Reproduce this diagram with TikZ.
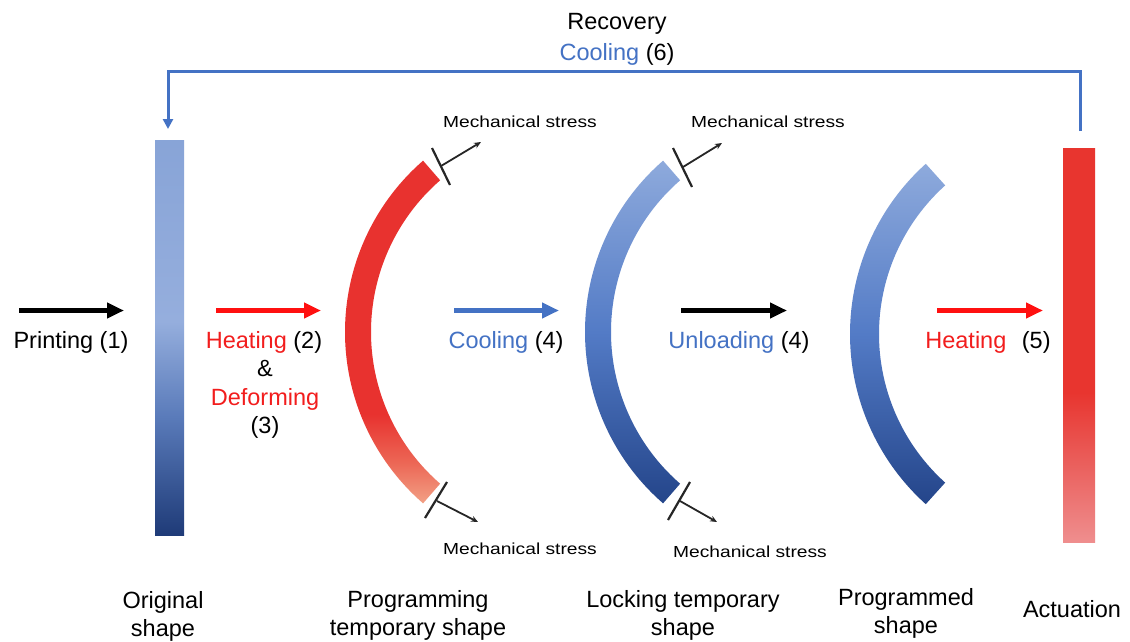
\documentclass[tikz,border=0pt]{standalone}
\usepackage{fontspec}
\usepackage{graphicx}
\setmainfont{Liberation Sans}
\usetikzlibrary{arrows.meta,calc}

\definecolor{txtblue}{HTML}{4472C4}
\definecolor{lineblue}{HTML}{4472C4}
\definecolor{txtred}{HTML}{F21D1D}
\definecolor{arrred}{HTML}{FF1010}
\definecolor{stressgray}{HTML}{262626}

\definecolor{obTop}{HTML}{88A4D7}
\definecolor{obMid}{HTML}{95AEDD}
\definecolor{obLow}{HTML}{5A7BBA}
\definecolor{obBot}{HTML}{1F3B78}
\pgfdeclareverticalshading{origsh}{100bp}{color(0bp)=(obBot); color(25bp)=(obBot); color(40bp)=(obLow); color(52bp)=(obMid); color(75bp)=(obTop); color(100bp)=(obTop)}

\definecolor{raRed}{HTML}{E8322F}
\definecolor{raMid}{HTML}{EC6655}
\definecolor{raSal}{HTML}{F2A085}
\pgfdeclareverticalshading{redsh}{100bp}{color(0bp)=(raSal); color(25bp)=(raSal); color(31bp)=(raMid); color(38bp)=(raRed); color(100bp)=(raRed)}

\definecolor{baTop}{HTML}{8EAADC}
\definecolor{baMid}{HTML}{537BC6}
\definecolor{baBot}{HTML}{24458A}
\pgfdeclareverticalshading{bluesh}{100bp}{color(0bp)=(baBot); color(25bp)=(baBot); color(50bp)=(baMid); color(75bp)=(baTop); color(100bp)=(baTop)}

\definecolor{acRed}{HTML}{E8352F}
\definecolor{acMid}{HTML}{EA5F5C}
\definecolor{acPink}{HTML}{EF8E8E}
\pgfdeclareverticalshading{actsh}{100bp}{color(0bp)=(acPink); color(25bp)=(acPink); color(35bp)=(acMid); color(44bp)=(acRed); color(100bp)=(acRed)}

\tikzset{
  lbl/.style={font=\fontsize{23.5}{28}\selectfont, inner sep=0pt, anchor=base},
  mslbl/.style={font=\fontsize{16}{19}\selectfont, inner sep=0pt, anchor=base},
  flowarrow/.style={line width=4.5pt, -{Triangle[length=17pt,width=15pt]}},
  stressbar/.style={line width=2.2pt, draw=stressgray},
  stressarrow/.style={line width=1.8pt, draw=stressgray, -{Stealth[length=7pt,width=6pt]}},
  feedback/.style={line width=3pt, draw=lineblue, -{Triangle[length=10pt,width=10pt]}}
}

\begin{document}
\begin{tikzpicture}[x=1pt,y=-1pt]
\useasboundingbox[fill=white] (0,0) rectangle (1130,642);

% bars
\node[shading=origsh, minimum width=29pt, minimum height=395pt, inner sep=0pt] (orig) at (169.5,337.5) {};
\node[shading=actsh, minimum width=32pt, minimum height=394pt, inner sep=0pt] (act) at (1079,345) {};

% arcs
\begin{scope}[shift={(572,332)}]
  \coordinate (redarc) at (0,0);
  \shade[shading=redsh] (229:227) arc[start angle=229, end angle=131, radius=227] -- (131:201) arc[start angle=131, end angle=229, radius=201] -- cycle;
\end{scope}
\begin{scope}[shift={(812,332)}]
  \coordinate (lockarc) at (0,0);
  \shade[shading=bluesh] (229:227) arc[start angle=229, end angle=131, radius=227] -- (131:201) arc[start angle=131, end angle=229, radius=201] -- cycle;
\end{scope}
\begin{scope}[shift={(1079,334)}]
  \coordinate (progarc) at (0,0);
  \shade[shading=bluesh] (228:229) arc[start angle=228, end angle=132, radius=229] -- (132:200) arc[start angle=132, end angle=228, radius=200] -- cycle;
\end{scope}

% stress symbols
\coordinate (s1a) at (432,148); \coordinate (s1b) at (450,185);
\coordinate (s1m) at (441,166); \coordinate (s1t) at (481,142);
\coordinate (s2a) at (425,518); \coordinate (s2b) at (447,482);
\coordinate (s2m) at (437,501); \coordinate (s2t) at (478,522);
\coordinate (s3a) at (673,148); \coordinate (s3b) at (692,187);
\coordinate (s3m) at (683,167); \coordinate (s3t) at (722,143);
\coordinate (s4a) at (668,520); \coordinate (s4b) at (690,482);
\coordinate (s4m) at (680,501); \coordinate (s4t) at (717,522);
\foreach \s in {s1,s2,s3,s4}{
  \draw[stressbar] (\s a) -- (\s b);
  \draw[stressarrow] (\s m) -- (\s t);
}
\node[mslbl] (ms1) at (520,127) {\scalebox{1.2}[1]{Mechanical stress}};
\node[mslbl] (ms2) at (768,127) {\scalebox{1.2}[1]{Mechanical stress}};
\node[mslbl] (ms3) at (520,554) {\scalebox{1.2}[1]{Mechanical stress}};
\node[mslbl] (ms4) at (750,557) {\scalebox{1.2}[1]{Mechanical stress}};

% flow arrows
\coordinate (a1s) at (19,310.5);  \coordinate (a1e) at (124,310.5);
\coordinate (a2s) at (216,310.5); \coordinate (a2e) at (321,310.5);
\coordinate (a3s) at (454,310.5); \coordinate (a3e) at (559,310.5);
\coordinate (a4s) at (681,310.5); \coordinate (a4e) at (787,310.5);
\coordinate (a5s) at (937,310.5); \coordinate (a5e) at (1043,310.5);
\draw[flowarrow, black] (a1s) -- (a1e);
\draw[flowarrow, arrred] (a2s) -- (a2e);
\draw[flowarrow, lineblue] (a3s) -- (a3e);
\draw[flowarrow, black] (a4s) -- (a4e);
\draw[flowarrow, arrred] (a5s) -- (a5e);

% flow labels
\node[lbl] (print) at (71,348) {Printing (1)};
\node[lbl] (heat2) at (264,348) {\textcolor{txtred}{Heating} (2)};
\node[lbl] (amp) at (265,376.5) {\&};
\node[lbl] (deform) at (265,405) {\textcolor{txtred}{Deforming}};
\node[lbl] (three) at (265,433) {(3)};
\node[lbl] (cool4) at (506,348) {\textcolor{txtblue}{Cooling} (4)};
\node[lbl] (unload) at (739,348) {\textcolor{txtblue}{Unloading} (4)};
\node[lbl] (heat5) at (988,348) {\textcolor{txtred}{Heating}\hspace{9pt} (5)};

% feedback
\coordinate (fbs) at (1080,131);
\coordinate (fbe) at (168,129);
\draw[feedback] (fbs) -- ++(0,-59) -| (fbe);
\node[lbl] (recov) at (617,30) {Recovery};
\node[lbl] (cool6) at (617,60) {\textcolor{txtblue}{Cooling} (6)};

% bottom labels
\node[lbl] (l1a) at (163,608) {Original};
\node[lbl] (l1b) at (163,636) {shape};
\node[lbl] (l2a) at (418,607) {Programming};
\node[lbl] (l2b) at (418,635) {temporary shape};
\node[lbl] (l3a) at (683,607) {Locking temporary};
\node[lbl] (l3b) at (683,635) {shape};
\node[lbl] (l4a) at (906,605) {Programmed};
\node[lbl] (l4b) at (906,633) {shape};
\node[lbl] (l5) at (1072,617) {Actuation};
\end{tikzpicture}
\end{document}
